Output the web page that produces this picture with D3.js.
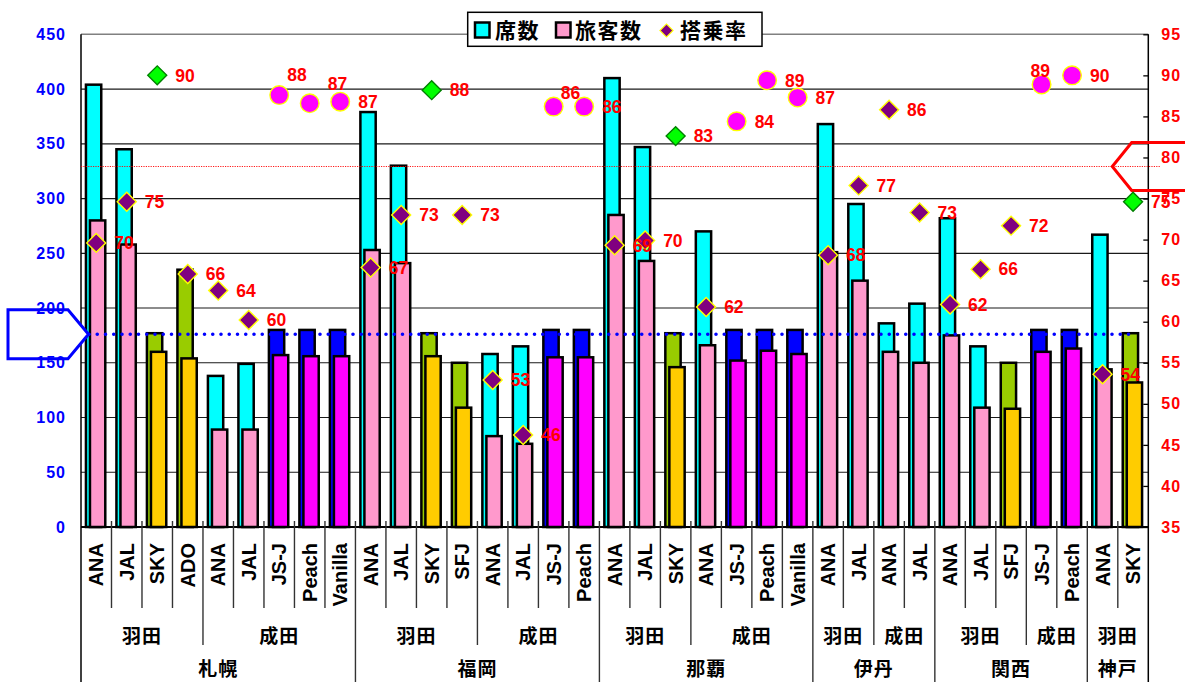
<!DOCTYPE html>
<html>
<head>
<meta charset="utf-8">
<script src="https://cdn.jsdelivr.net/npm/d3@7"></script>
<style>
  html, body { margin: 0; padding: 0; background: #fff; }
  svg { display: block; }
</style>
</head>
<body>
<svg id="chart" width="1185" height="682"></svg>
<script>
// ---------------- DATA ----------------
const airlines = ['ANA','JAL','SKY','ADO','ANA','JAL','JS-J','Peach','Vanilla',
                  'ANA','JAL','SKY','SFJ','ANA','JAL','JS-J','Peach',
                  'ANA','JAL','SKY','ANA','JS-J','Peach','Vanilla',
                  'ANA','JAL','ANA','JAL',
                  'ANA','JAL','SFJ','JS-J','Peach',
                  'ANA','SKY'];
const airports = ['羽田','羽田','羽田','羽田','成田','成田','成田','成田','成田',
                  '羽田','羽田','羽田','羽田','成田','成田','成田','成田',
                  '羽田','羽田','羽田','成田','成田','成田','成田',
                  '羽田','羽田','成田','成田',
                  '羽田','羽田','羽田','成田','成田',
                  '羽田','羽田'];
const cities   = ['札幌','札幌','札幌','札幌','札幌','札幌','札幌','札幌','札幌',
                  '福岡','福岡','福岡','福岡','福岡','福岡','福岡','福岡',
                  '那覇','那覇','那覇','那覇','那覇','那覇','那覇',
                  '伊丹','伊丹','伊丹','伊丹',
                  '関西','関西','関西','関西','関西',
                  '神戸','神戸'];
const seats      = [404,345,177,235,138,149,180,180,180,
                    379,330,177,150,158,165,180,180,
                    410,347,177,270,180,180,180,
                    368,295,186,204,
                    282,165,150,180,180,
                    267,177];
const passengers = [280,258,160,154,89,89,157,156,156,
                    253,241,156,109,83,76,155,155,
                    285,243,146,166,152,161,158,
                    251,225,160,150,
                    175,109,108,160,163,
                    144,132];
const loadFactor = [69.6,74.6,90.0,65.8,63.8,60.2,87.6,86.6,86.8,
                    66.6,73.0,88.2,73.0,52.9,46.2,86.2,86.2,
                    69.3,69.9,82.6,61.8,84.4,89.4,87.3,
                    68.1,76.6,85.8,73.3,
                    62.1,66.4,71.7,88.9,90.0,
                    53.6,74.6];
const avgSeats = 176;       // blue dotted reference (left axis)
const avgLoadFactor = 78.9; // red dotted reference (right axis)
const leftTicks  = [0,50,100,150,200,250,300,350,400,450];
const rightTicks = [35,40,45,50,55,60,65,70,75,80,85,90,95];
const legendLabels = ['席数','旅客数','搭乗率'];
const lccCarriers = ['JS-J','Peach','Vanilla'];
const midCarriers = ['SKY','ADO','SFJ'];

// label placement tweaks (index -> [dx, dy]) for crowded points
const labelNudge = {6:[-10,-20], 7:[0,-20], 15:[-11,-14], 31:[-29,-14]};

// ---------------- LAYOUT ----------------
const svg = d3.select('#chart');
const L = 81, R = 1148.3, T = 34.3, B = 527, H = 682;
const n = airlines.length;
const idx = d3.range(n);
const x = d3.scaleBand().domain(idx).range([L, R]).padding(0);
const bw = x.bandwidth();
const yL = d3.scaleLinear().domain([0, 450]).range([B, T]);
const yR = d3.scaleLinear().domain([35, 95]).range([B, T]);

const latin = "'Liberation Sans', Arial, Helvetica, sans-serif";
const cjk = "'Noto Sans CJK JP', 'Noto Sans CJK SC', sans-serif";

function kind(a) {
  if (lccCarriers.includes(a)) return 'lcc';
  if (midCarriers.includes(a)) return 'mid';
  return 'major';
}
const seatColor = {major:'#00FFFF', mid:'#99CC00', lcc:'#0000FF'};
const paxColor  = {major:'#FF99CC', mid:'#FFCC00', lcc:'#FF00FF'};

// ---------------- GRID ----------------
const grid = svg.append('g');
grid.selectAll('line.g').data(leftTicks.filter(v => v > 0 && v < 450)).join('line')
  .attr('x1', L).attr('x2', R)
  .attr('y1', d => yL(d)).attr('y2', d => yL(d))
  .attr('stroke', '#1a1a1a').attr('stroke-width', 1.2);
grid.append('line').attr('x1', L).attr('x2', R).attr('y1', yL(450)).attr('y2', yL(450))
  .attr('stroke', '#808080').attr('stroke-width', 1.6);

// ---------------- BARS ----------------
const barW = bw * 0.584 - 2.5;
const bars = svg.append('g');
bars.selectAll('rect.seat').data(idx).join('rect')
  .attr('x', i => x(i) + bw * 0.121 + 1.25)
  .attr('y', i => yL(seats[i]))
  .attr('width', barW)
  .attr('height', i => B - yL(seats[i]))
  .attr('fill', i => seatColor[kind(airlines[i])])
  .attr('stroke', '#000').attr('stroke-width', 2.5);
bars.selectAll('rect.pax').data(idx).join('rect')
  .attr('x', i => x(i) + bw * 0.253 + 1.25)
  .attr('y', i => yL(passengers[i]))
  .attr('width', barW)
  .attr('height', i => B - yL(passengers[i]))
  .attr('fill', i => paxColor[kind(airlines[i])])
  .attr('stroke', '#000').attr('stroke-width', 2.5);

// ---------------- AXES LINES ----------------
const ax = svg.append('g');
ax.append('line').attr('x1', L).attr('x2', L).attr('y1', T).attr('y2', H)
  .attr('stroke', '#000').attr('stroke-width', 1.5);
ax.append('line').attr('x1', R).attr('x2', R).attr('y1', T).attr('y2', H)
  .attr('stroke', '#000').attr('stroke-width', 1.5);
ax.append('line').attr('x1', L).attr('x2', R).attr('y1', B).attr('y2', B)
  .attr('stroke', '#000').attr('stroke-width', 2.2);

// category boundary lines below the axis
const bounds = d3.range(1, n);
ax.selectAll('line.cb').data(bounds).join('line')
  .attr('x1', i => x(i)).attr('x2', i => x(i))
  .attr('y1', B - 6)
  .attr('y2', i => cities[i] !== cities[i-1] ? H : (airports[i] !== airports[i-1] ? 645 : 608))
  .attr('stroke', '#333').attr('stroke-width', 1.4);

// category labels
svg.append('g').selectAll('text').data(idx).join('text')
  .attr('transform', i => `translate(${x(i) + bw/2},543) rotate(-90)`)
  .attr('text-anchor', 'end')
  .attr('dy', '0.35em')
  .attr('font-family', latin).attr('font-weight', 'bold').attr('font-size', 20)
  .attr('fill', '#000')
  .text(i => airlines[i]);

// airport group and city labels
function spans(keyFn) {
  const out = [];
  idx.forEach(i => {
    const k = keyFn(i);
    const last = out[out.length - 1];
    if (last && last.key === k) last.end = i;
    else out.push({key: k, start: i, end: i, label: null});
  });
  return out;
}
const groupSpans = spans(i => cities[i] + '|' + airports[i]);
groupSpans.forEach(s => s.label = airports[s.start]);
const citySpans = spans(i => cities[i]);
citySpans.forEach(s => s.label = cities[s.start]);

svg.append('g').selectAll('text').data(groupSpans).join('text')
  .attr('x', s => (x(s.start) + x(s.end) + bw) / 2)
  .attr('y', 636).attr('dy', '0.36em')
  .attr('text-anchor', 'middle')
  .attr('font-family', cjk).attr('font-weight', 'bold').attr('font-size', 19)
  .attr('letter-spacing', 1)
  .text(s => s.label);
svg.append('g').selectAll('text').data(citySpans).join('text')
  .attr('x', s => (x(s.start) + x(s.end) + bw) / 2)
  .attr('y', 669.5).attr('dy', '0.36em')
  .attr('text-anchor', 'middle')
  .attr('font-family', cjk).attr('font-weight', 'bold').attr('font-size', 19)
  .attr('letter-spacing', 1)
  .text(s => s.label);

// ---------------- REFERENCE LINES & ARROWS ----------------
const yb = yL(avgSeats);
const yr = yR(avgLoadFactor);
svg.append('line').attr('x1', L).attr('x2', 1161).attr('y1', yr).attr('y2', yr)
  .attr('stroke', '#FF0000').attr('stroke-width', 0.9).attr('stroke-dasharray', '1.2 1.2');
svg.append('line').attr('x1', 89).attr('x2', 1134).attr('y1', yb).attr('y2', yb)
  .attr('stroke', '#0000FF').attr('stroke-width', 3.6)
  .attr('stroke-linecap', 'round').attr('stroke-dasharray', '0 8.25');

const poly = d3.line();
svg.append('path')
  .attr('d', poly([[8, yb-24.5],[68, yb-24.5],[88.5, yb],[68, yb+24.5],[8, yb+24.5]]) + 'Z')
  .attr('fill', '#fff').attr('stroke', '#0000FF').attr('stroke-width', 3);
svg.append('path')
  .attr('d', poly([[1112.3, yr],[1131.7, yr-24],[1192, yr-24],[1192, yr+24],[1131.7, yr+24]]) + 'Z')
  .attr('fill', 'none').attr('stroke', '#FF0000').attr('stroke-width', 3);

// ---------------- TICK LABELS ----------------
const leftAxis = svg.append('g').attr('transform', `translate(${L},0)`)
  .call(d3.axisLeft(yL).tickValues(leftTicks).tickSize(0).tickPadding(15));
leftAxis.select('.domain').remove();
leftAxis.selectAll('text')
  .attr('font-family', latin).attr('font-weight', 'bold').attr('font-size', 16)
  .attr('letter-spacing', 1).attr('fill', '#0000FF');

const rightAxis = svg.append('g').attr('transform', `translate(${R},0)`)
  .call(d3.axisRight(yR).tickValues(rightTicks).tickSize(-5).tickPadding(13));
rightAxis.select('.domain').remove();
rightAxis.selectAll('line').attr('stroke', '#000').attr('stroke-width', 1.3);
rightAxis.selectAll('text')
  .attr('font-family', latin).attr('font-weight', 'bold').attr('font-size', 16)
  .attr('letter-spacing', 1).attr('fill', '#FF0000');

// ---------------- MARKERS ----------------
const diamond = d3.symbol().type(d3.symbolSquare).size(180)();
const circle = d3.symbol().type(d3.symbolCircle).size(272)();
const mk = svg.append('g');
mk.selectAll('path').data(idx).join('path')
  .attr('transform', i => {
    const k = kind(airlines[i]);
    return `translate(${x(i) + bw/2},${yR(loadFactor[i])})` + (k === 'lcc' ? '' : ' rotate(45)');
  })
  .attr('d', i => kind(airlines[i]) === 'lcc' ? circle : diamond)
  .attr('fill', i => airlines[i] === 'SKY' ? '#00FF00' : (kind(airlines[i]) === 'lcc' ? '#FF00FF' : '#800080'))
  .attr('stroke', i => airlines[i] === 'SKY' ? '#008000' : '#FFFF00')
  .attr('stroke-width', 1.4);

const fmt = d3.format('.0f');
svg.append('g').selectAll('text').data(idx).join('text')
  .attr('x', i => x(i) + bw/2 + 18 + (labelNudge[i] ? labelNudge[i][0] : 0))
  .attr('y', i => yR(loadFactor[i]) + (labelNudge[i] ? labelNudge[i][1] : 0))
  .attr('dy', '0.36em')
  .attr('font-family', latin).attr('font-weight', 'bold').attr('font-size', 17.5)
  .attr('fill', '#FF0000')
  .text(i => fmt(loadFactor[i]));

// ---------------- LEGEND ----------------
const lg = svg.append('g');
lg.append('rect').attr('x', 467.7).attr('y', 12.3).attr('width', 294.3).attr('height', 34)
  .attr('fill', '#fff').attr('stroke', '#000').attr('stroke-width', 1.5);
lg.append('rect').attr('x', 475).attr('y', 22.5).attr('width', 14.5).attr('height', 15)
  .attr('fill', seatColor.major).attr('stroke', '#000').attr('stroke-width', 2.5);
lg.append('rect').attr('x', 556).attr('y', 22.5).attr('width', 14.5).attr('height', 15)
  .attr('fill', paxColor.major).attr('stroke', '#000').attr('stroke-width', 2.5);
lg.append('path').attr('transform', 'translate(666.5,30.5) rotate(45)')
  .attr('d', d3.symbol().type(d3.symbolSquare).size(85)())
  .attr('fill', '#800080').attr('stroke', '#FFFF00').attr('stroke-width', 1.2);
const legendX = [495, 575, 680];
lg.selectAll('text').data(legendLabels).join('text')
  .attr('x', (d, i) => legendX[i]).attr('y', 30.5).attr('dy', '0.36em')
  .attr('font-family', cjk).attr('font-weight', 'bold').attr('font-size', 21)
  .attr('letter-spacing', 1.5)
  .text(d => d);
</script>
</body>
</html>
